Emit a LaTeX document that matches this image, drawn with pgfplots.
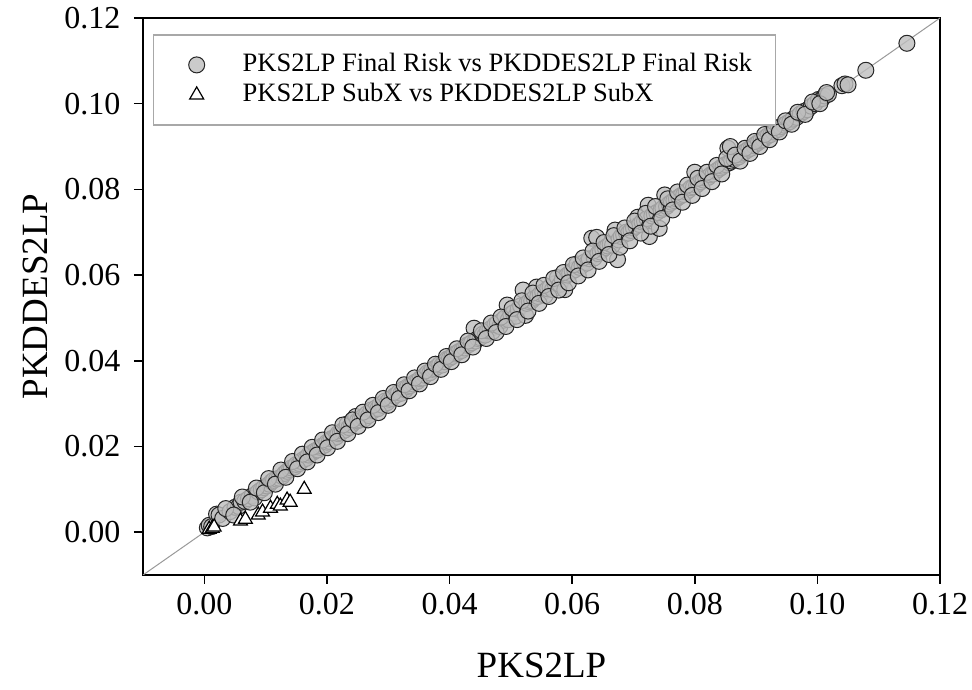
\documentclass[border=0pt]{standalone}
\usepackage{fontspec}
\setmainfont{Liberation Serif}
\usepackage{pgfplots}
\pgfplotsset{compat=1.18}
\definecolor{markgray}{HTML}{BEBEBE}
\definecolor{legframe}{HTML}{A8A8A8}
\begin{document}
\begin{tikzpicture}
\path[use as bounding box] (-143pt,-115pt) rectangle (829pt,575pt);
\begin{axis}[
  scale only axis,
  width=797pt, height=557pt,
  xmin=-0.01, xmax=0.12, ymin=-0.01, ymax=0.12,
  xtick={0,0.02,0.04,0.06,0.08,0.10,0.12},
  ytick={0,0.02,0.04,0.06,0.08,0.10,0.12},
  xticklabels={0.00,0.02,0.04,0.06,0.08,0.10,0.12},
  yticklabels={0.00,0.02,0.04,0.06,0.08,0.10,0.12},
  /pgf/number format/assume math mode=true,
  tick pos=left, tick align=outside,
  major tick length=9pt,
  every tick/.style={black, line width=1.5pt},
  axis line style={line width=1.8pt},
  tick label style={font=\fontsize{32}{38}\selectfont},
  xticklabel style={yshift=-6pt},
  yticklabel style={xshift=-10pt},
  xlabel={PKS2LP}, ylabel={PKDDES2LP},
  label style={font=\fontsize{37}{44}\selectfont},
  xlabel style={at={(axis description cs:0.5,-0.163)}, anchor=center},
  ylabel style={at={(axis description cs:-0.1355,0.5)}, anchor=center},
  legend cell align=left,
  legend image code/.code={\path[draw=none, fill=none] (0pt,-2pt) rectangle (86pt,2pt);
    \draw[#1] plot coordinates {(43pt,0pt)};},
  legend style={at={(axis description cs:0.0125,0.971)}, anchor=north west,
    draw=legframe, line width=1.5pt, font=\fontsize{26.5}{30}\selectfont,
    inner xsep=0pt, inner ysep=15pt, row sep=0pt,
    nodes={text height=19pt, text depth=6pt, inner ysep=2.5pt, inner xsep=3pt}},
]
\addplot[color=gray!80, line width=1pt, forget plot] coordinates {(-0.01,-0.01) (0.12,0.12)};
\addplot[only marks, mark=*, mark size=8pt,
  mark options={fill=markgray, draw=black!85, line width=1pt, fill opacity=0.8}]
coordinates {
(0.0005,0.0010) (0.0008,0.0016) (0.0012,0.0013) (0.0020,0.0042) (0.0024,0.0040)
(0.0030,0.0032) (0.0042,0.0048) (0.0050,0.0058) (0.0056,0.0060) (0.0060,0.0070)
(0.0066,0.0072) (0.0072,0.0078) (0.0078,0.0085) (0.0082,0.0080) (0.0088,0.0094)
(0.0093,0.0099) (0.0097,0.0104) (0.0102,0.0108) (0.0106,0.0112) (0.0110,0.0118)
(0.0113,0.0121) (0.0118,0.0124) (0.0122,0.0126) (0.0127,0.0130) (0.0131,0.0137)
(0.0135,0.0142) (0.0139,0.0146) (0.0142,0.0150) (0.0147,0.0152) (0.0150,0.0158)
(0.0155,0.0160) (0.0158,0.0165) (0.0162,0.0170) (0.0166,0.0172) (0.0170,0.0180)
(0.0174,0.0184) (0.0178,0.0187) (0.0181,0.0190) (0.0185,0.0192) (0.0189,0.0198)
(0.0192,0.0201) (0.0196,0.0203) (0.0200,0.0210) (0.0204,0.0212) (0.0207,0.0218)
(0.0211,0.0220) (0.0215,0.0222) (0.0218,0.0230) (0.0222,0.0232) (0.0225,0.0236)
(0.0229,0.0238) (0.0233,0.0252) (0.0236,0.0244) (0.0240,0.0250) (0.0244,0.0256)
(0.0247,0.0270) (0.0250,0.0260) (0.0254,0.0262) (0.0258,0.0268) (0.0261,0.0264)
(0.0265,0.0276) (0.0268,0.0272) (0.0272,0.0285) (0.0276,0.0284) (0.0280,0.0290)
(0.0283,0.0288) (0.0287,0.0298) (0.0291,0.0296) (0.0295,0.0306) (0.0298,0.0302)
(0.0302,0.0310) (0.0306,0.0312) (0.0310,0.0318) (0.0313,0.0320) (0.0317,0.0326)
(0.0321,0.0324) (0.0325,0.0334) (0.0328,0.0332) (0.0332,0.0340) (0.0336,0.0342)
(0.0340,0.0346) (0.0344,0.0350) (0.0348,0.0352) (0.0352,0.0358) (0.0356,0.0360)
(0.0360,0.0366) (0.0364,0.0372) (0.0368,0.0372) (0.0372,0.0380) (0.0376,0.0382)
(0.0380,0.0386) (0.0384,0.0392) (0.0388,0.0390) (0.0392,0.0398) (0.0396,0.0404)
(0.0400,0.0406) (0.0404,0.0410) (0.0408,0.0416) (0.0412,0.0418) (0.0416,0.0422)
(0.0420,0.0424) (0.0424,0.0430) (0.0428,0.0436) (0.0432,0.0438) (0.0436,0.0442)
(0.0440,0.0476) (0.0442,0.0446) (0.0446,0.0452) (0.0450,0.0454) (0.0454,0.0462)
(0.0458,0.0460) (0.0462,0.0470) (0.0466,0.0474) (0.0470,0.0468) (0.0474,0.0484)
(0.0478,0.0488) (0.0482,0.0480) (0.0486,0.0494) (0.0490,0.0500) (0.0494,0.0530)
(0.0496,0.0496) (0.0500,0.0508) (0.0504,0.0512) (0.0508,0.0504) (0.0512,0.0520)
(0.0516,0.0528) (0.0520,0.0565) (0.0524,0.0506) (0.0526,0.0534) (0.0530,0.0538)
(0.0534,0.0540) (0.0538,0.0546) (0.0542,0.0572) (0.0544,0.0550) (0.0548,0.0556)
(0.0552,0.0560) (0.0556,0.0552) (0.0560,0.0568) (0.0564,0.0572) (0.0568,0.0566)
(0.0572,0.0580) (0.0576,0.0594) (0.0580,0.0578) (0.0584,0.0590) (0.0588,0.0566)
(0.0592,0.0600) (0.0596,0.0604) (0.0600,0.0610) (0.0604,0.0612) (0.0608,0.0626)
(0.0612,0.0618) (0.0616,0.0622) (0.0620,0.0630) (0.0624,0.0628) (0.0628,0.0638)
(0.0632,0.0686) (0.0636,0.0640) (0.0640,0.0688) (0.0642,0.0650) (0.0646,0.0654)
(0.0650,0.0660) (0.0654,0.0664) (0.0658,0.0668) (0.0662,0.0672) (0.0666,0.0670)
(0.0670,0.0705) (0.0674,0.0636) (0.0676,0.0682) (0.0680,0.0690) (0.0684,0.0694)
(0.0688,0.0700) (0.0692,0.0698) (0.0696,0.0704) (0.0700,0.0710) (0.0704,0.0714)
(0.0707,0.0735) (0.0710,0.0718) (0.0714,0.0724) (0.0718,0.0726) (0.0722,0.0732)
(0.0724,0.0763) (0.0726,0.0690) (0.0730,0.0738) (0.0734,0.0742) (0.0738,0.0746)
(0.0742,0.0709) (0.0745,0.0752) (0.0748,0.0756) (0.0751,0.0787) (0.0754,0.0760)
(0.0758,0.0766) (0.0762,0.0770) (0.0766,0.0774) (0.0770,0.0778) (0.0774,0.0782)
(0.0778,0.0786) (0.0782,0.0788) (0.0786,0.0794) (0.0790,0.0798) (0.0794,0.0804)
(0.0798,0.0806) (0.0800,0.0840) (0.0803,0.0810) (0.0806,0.0814) (0.0810,0.0818)
(0.0814,0.0822) (0.0818,0.0826) (0.0822,0.0828) (0.0826,0.0834) (0.0830,0.0836)
(0.0834,0.0842) (0.0838,0.0846) (0.0842,0.0850) (0.0846,0.0854) (0.0850,0.0858)
(0.0854,0.0896) (0.0856,0.0862) (0.0860,0.0866) (0.0864,0.0870) (0.0868,0.0874)
(0.0872,0.0876) (0.0876,0.0882) (0.0880,0.0886) (0.0884,0.0890) (0.0888,0.0894)
(0.0892,0.0896) (0.0896,0.0902) (0.0900,0.0906) (0.0904,0.0910) (0.0908,0.0914)
(0.0912,0.0916) (0.0916,0.0922) (0.0920,0.0926) (0.0924,0.0928) (0.0928,0.0934)
(0.0932,0.0938) (0.0936,0.0940) (0.0940,0.0946) (0.0945,0.0950) (0.0950,0.0954)
(0.0955,0.0958) (0.0960,0.0964) (0.0966,0.0968) (0.0972,0.0976) (0.0978,0.0982)
(0.0984,0.0986) (0.0990,0.0994) (0.0996,0.1000) (0.1002,0.1010) (0.1008,0.1012)
(0.1012,0.1018) (0.1018,0.1022) (0.1040,0.1042) (0.1045,0.1046) (0.1079,0.1078)
(0.1146,0.1141)
(0.0035,0.0055) (0.0048,0.0040) (0.0062,0.0082) (0.0075,0.0070) (0.0085,0.0103)
(0.0098,0.0092) (0.0105,0.0125) (0.0116,0.0112) (0.0125,0.0145) (0.0133,0.0128)
(0.0144,0.0165) (0.0152,0.0148) (0.0160,0.0182) (0.0168,0.0164) (0.0176,0.0198)
(0.0184,0.0180) (0.0193,0.0215) (0.0201,0.0197) (0.0209,0.0232) (0.0217,0.0212)
(0.0226,0.0250) (0.0234,0.0230) (0.0242,0.0262) (0.0251,0.0247) (0.0259,0.0280)
(0.0267,0.0262) (0.0275,0.0296) (0.0284,0.0279) (0.0292,0.0312) (0.0300,0.0296)
(0.0309,0.0326) (0.0318,0.0312) (0.0326,0.0344) (0.0334,0.0330) (0.0343,0.0360)
(0.0351,0.0346) (0.0360,0.0376) (0.0369,0.0363) (0.0377,0.0392) (0.0386,0.0380)
(0.0395,0.0410) (0.0403,0.0398) (0.0412,0.0428) (0.0420,0.0414) (0.0430,0.0446)
(0.0438,0.0432)
(0.0452,0.0470) (0.0460,0.0452) (0.0468,0.0488) (0.0476,0.0466) (0.0484,0.0502)
(0.0492,0.0480) (0.0502,0.0522) (0.0510,0.0496) (0.0518,0.0540) (0.0528,0.0516)
(0.0536,0.0558) (0.0546,0.0534) (0.0554,0.0576) (0.0562,0.0550) (0.0570,0.0592)
(0.0578,0.0565) (0.0586,0.0606) (0.0594,0.0582) (0.0602,0.0624) (0.0610,0.0598)
(0.0618,0.0640) (0.0626,0.0612) (0.0634,0.0656) (0.0644,0.0632) (0.0652,0.0676)
(0.0660,0.0648) (0.0668,0.0692) (0.0678,0.0665) (0.0686,0.0710) (0.0694,0.0680)
(0.0702,0.0726) (0.0712,0.0698) (0.0720,0.0744) (0.0728,0.0714) (0.0736,0.0760)
(0.0746,0.0732) (0.0756,0.0778) (0.0764,0.0752) (0.0772,0.0794) (0.0780,0.0770)
(0.0788,0.0810) (0.0796,0.0786) (0.0805,0.0826) (0.0812,0.0802) (0.0820,0.0840)
(0.0828,0.0818) (0.0836,0.0856) (0.0844,0.0836) (0.0852,0.0872) (0.0858,0.0900)
(0.0866,0.0880) (0.0874,0.0866) (0.0882,0.0896) (0.0890,0.0884) (0.0898,0.0912)
(0.0906,0.0900) (0.0914,0.0928) (0.0922,0.0916) (0.0930,0.0944) (0.0938,0.0934)
(0.0948,0.0960) (0.0958,0.0952) (0.0968,0.0980) (0.0980,0.0975) (0.0992,0.1004)
(0.1004,0.1000) (0.1015,0.1026) (0.1050,0.1044)
};
\addlegendentry{\makebox[530pt][l]{PKS2LP Final Risk vs PKDDES2LP Final Risk}}
\addplot[only marks, mark=triangle*, mark size=8pt,
  mark options={fill=white, draw=black, line width=1.2pt}]
coordinates {
(0.0008,0.0007) (0.0013,0.0009) (0.0016,0.0012) (0.0059,0.0026) (0.0067,0.0030)
(0.0088,0.0040) (0.0095,0.0047) (0.0108,0.0056) (0.0119,0.0065) (0.0124,0.0061)
(0.0135,0.0075) (0.0140,0.0070) (0.0163,0.0100)
};
\addlegendentry{PKS2LP SubX vs PKDDES2LP SubX}
\end{axis}
\end{tikzpicture}
\end{document}
